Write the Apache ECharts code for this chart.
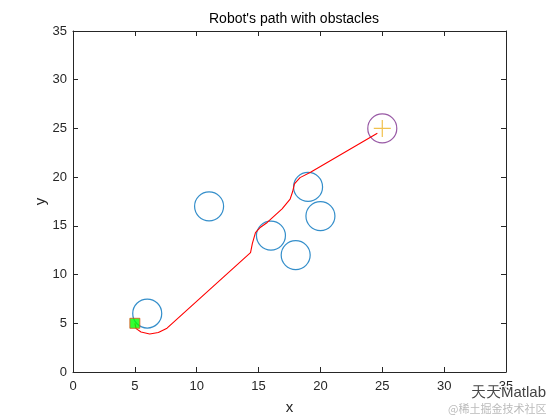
<!DOCTYPE html>
<html>
<head>
<meta charset="utf-8">
<script src="https://cdn.jsdelivr.net/npm/echarts@6/dist/echarts.min.js"></script>
<style>html,body{margin:0;padding:0;background:#fff}#c{width:560px;height:420px}</style>
</head>
<body>
<div id="c"></div>
<script>
var titleText = "Robot's path with obstacles";
var xTicks = [0, 5, 10, 15, 20, 25, 30, 35];
var yTicks = [0, 5, 10, 15, 20, 25, 30, 35];
var pathX = [5, 5.1, 5.5, 6.2, 6.9, 7.6, 14.35, 14.5, 14.75, 15.1, 15.7, 16.9, 17.55, 17.75, 17.9, 18.35, 19.2, 24.6];
var pathY = [5, 4.45, 4.1, 3.9, 4.05, 4.5, 12.25, 13.2, 14.3, 14.8, 15.35, 16.75, 17.75, 18.5, 19.3, 19.95, 20.5, 24.5];
var obstacleX = [6, 11, 16, 18, 19, 20];
var obstacleY = [6, 17, 14, 12, 19, 16];
var startPt = [5, 5];
var goalPt = [25, 25];

var pathData = pathX.map(function (x, i) { return [x, pathY[i]]; });
var obsData = obstacleX.map(function (x, i) { return [x, obstacleY[i]]; });

var axisCol = '#262626';
var font = 'Liberation Sans, Arial, Helvetica, sans-serif';
var chart = echarts.init(document.getElementById('c'), null, {renderer: 'canvas'});

function xAx(pos, show) {
  return {
    type: 'value', position: pos, min: xTicks[0], max: xTicks[xTicks.length - 1], interval: 5,
    name: show ? 'x' : '', nameLocation: 'middle', nameGap: 28, nameMoveOverlap: false,
    nameTextStyle: {color: axisCol, fontSize: 15, fontFamily: font},
    axisLine: {show: true, onZero: false, lineStyle: {color: axisCol, width: 1}},
    axisTick: {show: true, inside: true, length: 5, lineStyle: {color: axisCol}},
    axisLabel: {show: show, color: axisCol, fontSize: 13, fontFamily: font, margin: 8},
    splitLine: {show: false}
  };
}
function yAx(pos, show) {
  return {
    type: 'value', position: pos, min: yTicks[0], max: yTicks[yTicks.length - 1], interval: 5,
    name: show ? 'y' : '', nameLocation: 'middle', nameGap: 25, nameMoveOverlap: false,
    nameTextStyle: {color: axisCol, fontSize: 15, fontFamily: font},
    axisLine: {show: true, onZero: false, lineStyle: {color: axisCol, width: 1}},
    axisTick: {show: true, inside: true, length: 5, lineStyle: {color: axisCol}},
    axisLabel: {show: show, color: axisCol, fontSize: 13, fontFamily: font, margin: 6},
    splitLine: {show: false}
  };
}

chart.setOption({
  animation: false,
  backgroundColor: '#ffffff',
  title: {
    text: titleText, left: 289, top: 7, textAlign: 'center',
    textStyle: {color: '#000', fontSize: 14, fontWeight: 'normal', fontFamily: font}
  },
  grid: {left: 73, right: 54, top: 31, bottom: 47, containLabel: false},
  xAxis: [xAx('bottom', true), xAx('top', false)],
  yAxis: [yAx('left', true), yAx('right', false)],
  series: [
    {
      type: 'line', data: pathData, showSymbol: false, symbol: 'none', smooth: false,
      lineStyle: {color: '#ff0000', width: 1.1}, z: 3
    },
    {
      type: 'scatter', data: obsData, symbol: 'circle', symbolSize: 29,
      itemStyle: {color: 'rgba(0,0,0,0)', borderColor: '#0072BD', borderWidth: 1.2}, z: 2
    },
    {
      type: 'scatter', data: [goalPt], symbol: 'circle', symbolSize: 29,
      itemStyle: {color: 'rgba(0,0,0,0)', borderColor: '#7E2F8E', borderWidth: 1.2}, z: 2
    },
    {
      type: 'scatter', data: [goalPt], symbol: 'path://M10,0L10,20M0,10L20,10', symbolSize: 17,
      itemStyle: {color: 'rgba(0,0,0,0)', borderColor: '#EDB120', borderWidth: 1.2}, z: 4
    },
    {
      type: 'scatter', data: [startPt], symbol: 'rect', symbolSize: 10,
      itemStyle: {color: '#00ff00', borderColor: '#D95319', borderWidth: 1}, z: 5
    }
  ],
  graphic: [
    {type: 'text', left: 470, top: 384, style: {text: '天天Matlab', fontSize: 15, fill: '#444', stroke: '#fff', lineWidth: 2, font: '15px "Noto Sans CJK SC", sans-serif'}, z: 10},
    {type: 'text', left: 448, top: 403, style: {text: '@稀土掘金技术社区', fill: '#bbb', font: '11px "Noto Sans CJK SC", sans-serif'}, z: 10}
  ]
});
</script>
</body>
</html>
